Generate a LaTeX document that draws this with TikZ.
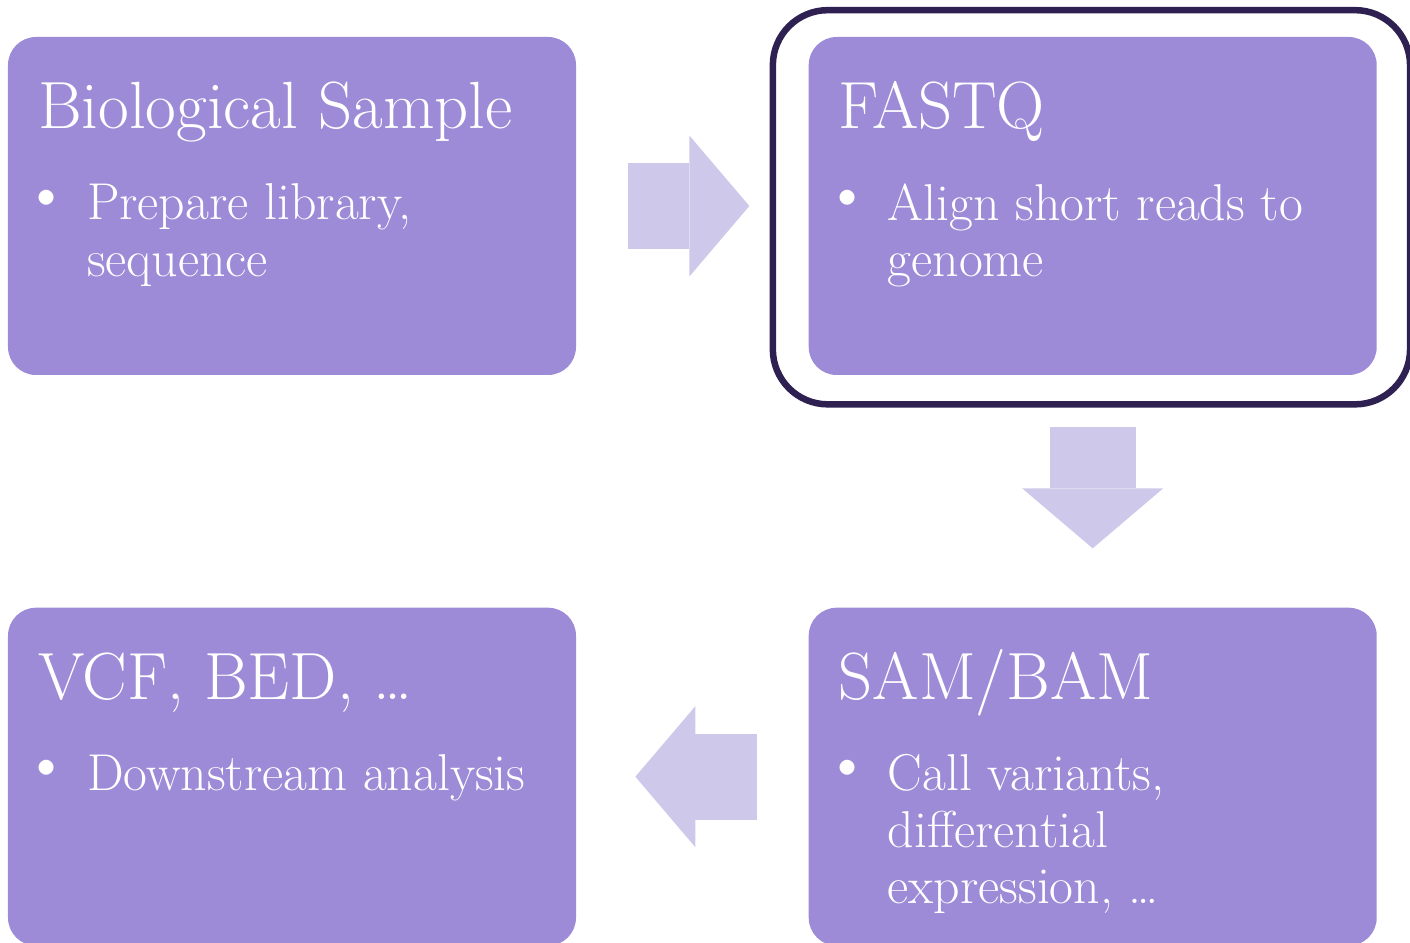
\documentclass[tikz,border=0pt]{standalone}
\usetikzlibrary{positioning, arrows.meta}
\definecolor{boxfill}{HTML}{9D8BD8}
\definecolor{arrowfill}{HTML}{CEC9EA}
\definecolor{framedark}{HTML}{2E2152}
\tikzstyle{stage} = [
  rectangle,
  rounded corners=0.56cm,
  minimum width=11.36cm,
  minimum height=6.76cm,
  draw=none,
  fill=boxfill
]
\tikzstyle{title} = [
  anchor=base west,
  inner sep=0pt,
  text=white,
  font=\fontsize{38}{46}\selectfont
]
\tikzstyle{dot} = [
  anchor=base west,
  inner sep=0pt,
  text=white,
  font=\fontsize{38}{40}\selectfont
]
\tikzstyle{bullet-text} = [
  anchor=north west,
  inner sep=0pt,
  align=left,
  text=white,
  font=\fontsize{29.5}{32.3}\selectfont
]
\tikzstyle{flow} = [
  line width=1.72cm,
  draw=arrowfill,
  -{Triangle[width=2.82cm, length=1.2cm, line width=0pt]},
  shorten <=1.03cm,
  shorten >=1.18cm
]
\tikzstyle{highlight} = [
  draw=framedark,
  line width=0.13cm,
  rounded corners=1.1cm
]

\begin{document}
\begin{tikzpicture}[node distance=4.64cm]
    \useasboundingbox (0,0) rectangle (28.2,-18.86);

    \node (bio) [stage] at (5.84,-4.12) {};
    \node (fastq) [stage, right=of bio] {};
    \node (sam) [stage, below=of fastq] {};
    \node (vcf) [stage, left=of sam] {};

    \draw [highlight] ([xshift=-0.71cm, yshift=0.53cm]fastq.north west) rectangle ([xshift=0.66cm, yshift=-0.58cm]fastq.south east);

    \node (bio-title) [title] at ([xshift=0.6cm, yshift=-1.84cm]bio.north west) {Biological Sample};
    \node (bio-dot) [dot] at ([xshift=0.3cm, yshift=-3.57cm]bio.north west) {\textbullet};
    \node (bio-text) [bullet-text] at ([xshift=1.58cm, yshift=-2.93cm]bio.north west) {Prepare library,\\sequence};

    \node (fastq-title) [title] at ([xshift=0.6cm, yshift=-1.84cm]fastq.north west) {FASTQ};
    \node (fastq-dot) [dot] at ([xshift=0.3cm, yshift=-3.57cm]fastq.north west) {\textbullet};
    \node (fastq-text) [bullet-text] at ([xshift=1.58cm, yshift=-2.93cm]fastq.north west) {Align short reads to\\genome};

    \node (sam-title) [title] at ([xshift=0.6cm, yshift=-1.84cm]sam.north west) {SAM/BAM};
    \node (sam-dot) [dot] at ([xshift=0.3cm, yshift=-3.57cm]sam.north west) {\textbullet};
    \node (sam-text) [bullet-text] at ([xshift=1.58cm, yshift=-2.93cm]sam.north west) {Call variants,\\differential\\expression, \dots};

    \node (vcf-title) [title] at ([xshift=0.6cm, yshift=-1.84cm]vcf.north west) {VCF, BED, \dots};
    \node (vcf-dot) [dot] at ([xshift=0.3cm, yshift=-3.57cm]vcf.north west) {\textbullet};
    \node (vcf-text) [bullet-text] at ([xshift=1.58cm, yshift=-2.93cm]vcf.north west) {Downstream analysis};

    \draw [flow] (bio) -- (fastq);
    \draw [flow] (fastq) -- (sam);
    \draw [flow] (sam) -- (vcf);
  \end{tikzpicture}
\end{document}
